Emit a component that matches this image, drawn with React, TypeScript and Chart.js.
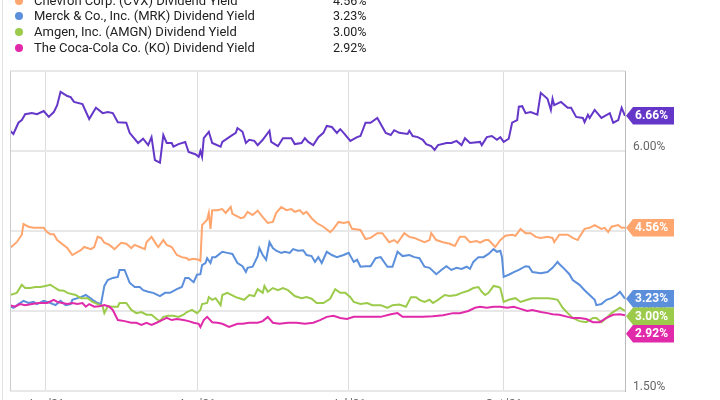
import React, { useEffect, useRef } from 'react';
import { Chart, registerables } from 'chart.js';

Chart.register(...registerables);

// days since the first observation, and dividend yield in %
const tickDays = [21, 111, 201, 293];
const tickLabels = ["Jan '21", "Apr '21", "Jul '21", "Oct '21"];
const yTicks = [1.5, 3, 4.5, 6, 7.5];

const topDays = [0,2,5,7,9,13,16,20,23,26,28,30,34,36,38,43,47,51,55,58,61,64,69,71,76,79,82,84,86,89,91,93,96,97,100,104,106,110,112,113,114,115,118,120,125,126,131,134,135,138,140,142,145,147,150,154,155,159,162,167,169,173,175,177,180,183,186,188,191,194,196,198,202,206,208,211,214,218,223,226,228,231,236,237,239,242,245,247,250,252,254,259,262,265,268,270,273,279,280,283,286,289,291,293,296,298,301,302,304,306,309,313,315,319,321,322,323,327,331,333,336,340,341,343,344,347,351,356,358,361,363,365];
const topYield = [6.38,6.32,6.53,6.58,6.69,6.71,6.69,6.75,6.64,6.73,6.86,7.11,7.03,7.01,6.92,6.88,6.60,6.81,6.71,6.73,6.71,6.54,6.53,6.34,6.15,6.23,6.11,6.26,5.83,5.78,6.30,6.15,6.15,6.08,6.13,6.17,5.98,5.94,5.89,6.00,5.89,6.24,6.36,6.15,6.08,6.17,6.28,6.34,6.43,6.36,6.15,6.21,6.19,6.11,6.21,6.38,6.17,6.09,6.24,6.24,6.13,6.15,6.24,6.17,6.11,6.26,6.34,6.47,6.45,6.34,6.41,6.34,6.19,6.26,6.28,6.53,6.53,6.62,6.34,6.30,6.39,6.34,6.32,6.38,6.28,6.26,6.21,6.13,6.09,6.02,6.11,6.15,6.15,6.19,6.11,6.24,6.15,6.17,6.11,6.26,6.28,6.21,6.26,6.17,6.23,6.53,6.58,6.83,6.84,6.71,6.73,6.68,7.09,6.98,6.77,6.98,6.86,6.92,6.81,6.81,6.64,6.62,6.54,6.68,6.62,6.77,6.62,6.71,6.53,6.58,6.81,6.66];

const cvxDays = [0,4,7,8,11,14,17,20,22,24,26,28,34,37,42,44,48,50,52,54,56,59,62,66,69,72,74,77,80,81,84,87,88,91,93,96,99,102,105,106,109,112,113,114,117,118,119,120,123,126,128,131,132,137,139,141,144,147,150,153,156,158,161,164,167,169,172,174,176,179,182,186,190,192,195,198,201,203,208,211,214,218,221,225,228,230,234,237,240,243,246,249,250,253,257,261,264,267,270,273,277,279,282,284,288,291,294,298,300,303,306,309,312,315,319,322,323,326,331,334,337,338,341,344,347,351,353,355,357,361,363,365];
const cvxYield = [4.18,4.29,4.43,4.63,4.58,4.56,4.56,4.56,4.48,4.44,4.44,4.33,4.18,4.05,4.14,4.20,4.16,4.20,4.39,4.37,4.28,4.24,4.16,4.28,4.26,4.18,4.24,4.20,4.16,4.29,4.39,4.24,4.20,4.33,4.24,4.20,4.05,4.01,3.99,3.96,3.98,3.96,3.94,4.61,4.71,4.84,4.54,4.89,4.89,4.91,4.84,4.95,4.82,4.74,4.76,4.86,4.80,4.88,4.76,4.65,4.67,4.84,4.95,4.89,4.91,4.86,4.89,4.82,4.86,4.74,4.65,4.58,4.48,4.54,4.67,4.65,4.67,4.54,4.52,4.35,4.37,4.46,4.46,4.29,4.33,4.28,4.46,4.39,4.37,4.33,4.29,4.33,4.46,4.33,4.29,4.26,4.22,4.39,4.39,4.29,4.31,4.28,4.33,4.33,4.20,4.33,4.41,4.43,4.41,4.54,4.46,4.46,4.39,4.37,4.39,4.37,4.29,4.43,4.43,4.37,4.33,4.39,4.54,4.56,4.61,4.54,4.56,4.48,4.58,4.61,4.56,4.56];

const mrkDays = [0,2,5,8,11,14,16,20,24,27,30,33,36,37,42,45,49,52,54,56,58,61,64,65,68,71,74,77,79,82,85,89,92,95,99,102,104,106,109,111,113,114,116,117,119,120,122,126,129,132,135,138,140,141,144,147,148,150,152,154,156,158,161,163,166,168,171,174,176,179,181,183,185,188,191,194,198,201,204,206,208,211,214,217,220,224,227,230,233,237,240,243,246,249,253,256,259,262,265,268,271,273,275,278,281,284,287,289,291,292,293,296,299,302,306,308,310,315,319,322,325,326,329,332,334,338,341,344,347,348,351,354,357,360,362,365];
const mrkYield = [3.09,3.06,3.13,3.19,3.15,3.17,3.13,3.19,3.15,3.11,3.19,3.11,3.13,3.21,3.26,3.30,3.21,3.15,3.13,3.47,3.58,3.62,3.64,3.77,3.77,3.53,3.45,3.45,3.39,3.36,3.34,3.28,3.34,3.34,3.41,3.45,3.62,3.62,3.54,3.68,3.69,3.86,3.90,3.99,3.90,4.01,4.01,4.11,4.09,4.07,3.90,3.84,3.73,3.81,3.83,4.03,4.18,4.05,3.96,4.29,4.18,4.13,4.09,4.11,4.09,4.16,4.13,4.14,4.05,4.03,3.92,4.01,3.90,4.11,4.05,4.01,4.05,4.09,3.92,3.96,3.83,3.84,3.84,3.99,4.01,3.83,3.83,4.11,4.03,4.05,4.01,3.99,3.83,3.81,3.69,3.77,3.84,3.77,3.81,3.79,3.83,3.79,3.92,4.01,4.01,4.07,4.16,4.11,4.13,4.01,3.64,3.68,3.73,3.77,3.84,3.83,3.73,3.71,3.73,3.81,3.92,3.88,3.79,3.69,3.58,3.49,3.39,3.30,3.21,3.11,3.13,3.21,3.24,3.30,3.36,3.23];

const amgnDays = [0,4,7,9,12,15,18,21,24,26,29,32,34,39,42,46,49,52,55,56,58,61,64,65,69,72,75,78,81,84,87,89,91,94,97,100,103,105,108,111,113,114,117,118,120,122,125,126,129,134,137,139,142,145,147,150,151,153,156,159,162,165,169,173,176,179,182,186,190,193,196,199,202,204,208,212,215,220,224,227,231,235,238,241,243,246,249,251,254,258,261,265,268,272,275,278,280,282,284,287,290,291,293,296,300,303,307,310,315,319,322,325,328,331,334,338,342,346,348,351,354,357,360,362,365];
const amgnYield = [3.30,3.34,3.49,3.43,3.43,3.45,3.45,3.47,3.49,3.45,3.39,3.38,3.34,3.30,3.24,3.24,3.17,3.13,3.09,2.96,3.09,3.08,3.08,3.15,3.15,3.02,2.96,2.98,2.93,2.93,2.85,2.81,2.89,2.91,2.91,2.89,2.93,2.98,3.02,2.96,3.02,3.13,3.15,3.26,3.21,3.24,3.11,3.30,3.34,3.26,3.23,3.21,3.30,3.28,3.41,3.34,3.47,3.36,3.43,3.39,3.43,3.39,3.28,3.24,3.26,3.23,3.15,3.15,3.23,3.41,3.34,3.34,3.26,3.17,3.13,3.15,3.11,3.11,3.06,3.11,3.12,3.08,3.26,3.26,3.21,3.17,3.21,3.15,3.21,3.30,3.28,3.30,3.34,3.38,3.43,3.45,3.36,3.30,3.34,3.47,3.45,3.43,3.17,3.21,3.24,3.17,3.21,3.24,3.24,3.24,3.23,3.21,3.06,2.96,2.87,2.81,2.79,2.87,2.87,2.79,2.87,2.96,3.02,3.06,3.00];

const koDays = [0,3,6,9,13,17,22,26,28,31,34,37,40,43,45,47,50,53,56,59,61,64,68,72,75,78,81,84,87,89,93,96,99,103,106,109,112,113,115,117,120,123,126,130,135,138,142,147,150,153,156,160,165,170,175,180,184,188,192,196,200,204,208,214,220,226,230,233,239,245,251,257,263,267,272,276,279,283,287,291,295,299,303,307,310,315,319,322,326,331,334,338,342,346,350,354,358,362,365];
const koYield = [3.11,3.08,3.13,3.11,3.13,3.15,3.15,3.21,3.17,3.15,3.13,3.15,3.13,3.15,3.08,3.13,3.08,3.09,3.11,3.08,3.02,2.83,2.81,2.78,2.78,2.74,2.78,2.74,2.78,2.81,2.87,2.83,2.85,2.83,2.81,2.78,2.76,2.70,2.83,2.89,2.79,2.78,2.76,2.70,2.76,2.76,2.78,2.78,2.81,2.89,2.78,2.76,2.78,2.78,2.76,2.78,2.83,2.89,2.91,2.87,2.85,2.89,2.89,2.89,2.89,2.94,2.96,2.89,2.89,2.89,2.90,2.92,2.96,2.96,3.00,3.06,3.08,3.06,3.08,3.08,3.06,3.08,3.04,3.00,3.02,2.98,2.96,2.94,2.93,2.89,2.87,2.87,2.85,2.79,2.79,2.87,2.93,2.94,2.92];

const series = [
  { label: 'Dividend Yield', color: '#6537c9', days: topDays, values: topYield, legend: false },
  { label: 'Chevron Corp. (CVX) Dividend Yield', color: '#ffa66f', days: cvxDays, values: cvxYield, legend: true },
  { label: 'Merck & Co., Inc. (MRK) Dividend Yield', color: '#5b8fdc', days: mrkDays, values: mrkYield, legend: true },
  { label: 'Amgen, Inc. (AMGN) Dividend Yield', color: '#9ccb4c', days: amgnDays, values: amgnYield, legend: true },
  { label: 'The Coca-Cola Co. (KO) Dividend Yield', color: '#e12aaa', days: koDays, values: koYield, legend: true },
];

const pct = (v: number) => v.toFixed(2) + '%';

// value tags at the right end of each line, pushed down when they overlap
const endTags = {
  id: 'endTags',
  afterDraw(chart: any) {
    const { ctx, chartArea, scales } = chart;
    const h = 17.5;
    const tags = chart.data.datasets
      .map((ds: any) => {
        const last = ds.data[ds.data.length - 1];
        return { v: last.y, color: ds.borderColor, py: scales.y.getPixelForValue(last.y) };
      })
      .sort((a: any, b: any) => a.py - b.py);
    let prev = -Infinity;
    tags.forEach((t: any) => {
      t.py = Math.max(t.py, prev + h);
      prev = t.py;
    });
    ctx.save();
    // left frame line
    ctx.strokeStyle = '#cccccc';
    ctx.lineWidth = 1;
    ctx.beginPath();
    ctx.moveTo(chartArea.left + 0.5, chartArea.top);
    ctx.lineTo(chartArea.left + 0.5, chartArea.bottom);
    ctx.stroke();
    const x0 = chartArea.right;
    tags.forEach((t: any) => {
      const top = t.py - h / 2;
      ctx.fillStyle = t.color;
      ctx.beginPath();
      ctx.moveTo(x0 + 1, t.py);
      ctx.lineTo(x0 + 8, top);
      ctx.lineTo(x0 + 49, top);
      ctx.lineTo(x0 + 49, top + h);
      ctx.lineTo(x0 + 8, top + h);
      ctx.closePath();
      ctx.fill();
      ctx.fillStyle = '#ffffff';
      ctx.font = 'bold 12px Roboto';
      ctx.textBaseline = 'middle';
      ctx.fillText(pct(t.v), x0 + 10, t.py + 0.5);
    });
    ctx.restore();
  },
};

function YieldChart() {
  const canvasRef = useRef<HTMLCanvasElement>(null);

  useEffect(() => {
    if (!canvasRef.current) return;
    const chart = new Chart(canvasRef.current, {
      type: 'line',
      data: {
        datasets: series.map((s, i) => ({
          label: s.label,
          data: s.days.map((d, j) => ({ x: d, y: s.values[j] })),
          borderColor: s.color,
          backgroundColor: s.color,
          borderWidth: 2,
          pointRadius: 0,
          tension: 0,
          order: series.length - i,
        })),
      },
      options: {
        animation: false,
        responsive: true,
        maintainAspectRatio: false,
        layout: { padding: { top: 71, left: 10, right: 0, bottom: 0 } },
        plugins: { legend: { display: false }, tooltip: { enabled: false } },
        scales: {
          x: {
            type: 'linear',
            min: 0,
            max: 365,
            afterBuildTicks: (axis: any) => {
              axis.ticks = tickDays.map((v) => ({ value: v }));
            },
            afterFit: (axis: any) => {
              axis.height = 29;
            },
            ticks: {
              callback: (_v: any, i: number) => tickLabels[i],
              color: '#666',
              font: { family: 'Roboto', size: 12 },
              padding: 7,
              maxRotation: 0,
            },
            grid: { color: '#dddddd', lineWidth: 1, drawTicks: false },
            border: { display: false },
          },
          y: {
            position: 'right',
            min: 1.5,
            max: 7.5,
            afterBuildTicks: (axis: any) => {
              axis.ticks = yTicks.map((v) => ({ value: v }));
            },
            afterFit: (axis: any) => {
              axis.width = 95;
            },
            ticks: {
              callback: (v: any) => (v === 7.5 ? '' : pct(Number(v))),
              color: '#666',
              font: { family: 'Roboto', size: 12 },
              padding: 8,
              labelOffset: -4,
            },
            grid: { color: '#e8e8e8', lineWidth: 2, drawTicks: false },
            border: { display: true, color: '#bbbbbb', width: 1 },
          },
        },
      },
      plugins: [endTags],
    });
    return () => chart.destroy();
  }, []);

  return (
    <div style={{ position: 'absolute', left: 0, top: 0, width: 720, height: 420 }}>
      <canvas ref={canvasRef} />
    </div>
  );
}

export default function App() {
  const rows = series.filter((s) => s.legend);
  return (
    <div
      style={{
        position: 'fixed',
        left: 0,
        top: 0,
        width: 720,
        height: 400,
        overflow: 'hidden',
        background: '#fff',
        fontFamily: 'Roboto, sans-serif',
      }}
    >
      <YieldChart />
      <div style={{ position: 'absolute', left: 2, top: 0, height: 400, borderLeft: '1px solid #e2e2e2' }} />
      {rows.map((s, i) => (
        <div
          key={s.label}
          style={{
            position: 'absolute',
            left: 0,
            top: -7.5 + i * 15.75,
            height: 16,
            lineHeight: '16px',
            fontSize: 13,
            color: '#222',
            whiteSpace: 'nowrap',
          }}
        >
          <span
            style={{
              position: 'absolute',
              left: 15,
              top: 4,
              width: 8,
              height: 8,
              borderRadius: 4,
              background: s.color,
            }}
          />
          <span style={{ position: 'absolute', left: 34 }}>{s.label}</span>
          <span style={{ position: 'absolute', left: 333, fontSize: 12.5 }}>{pct(s.values[s.values.length - 1])}</span>
        </div>
      ))}
    </div>
  );
}
